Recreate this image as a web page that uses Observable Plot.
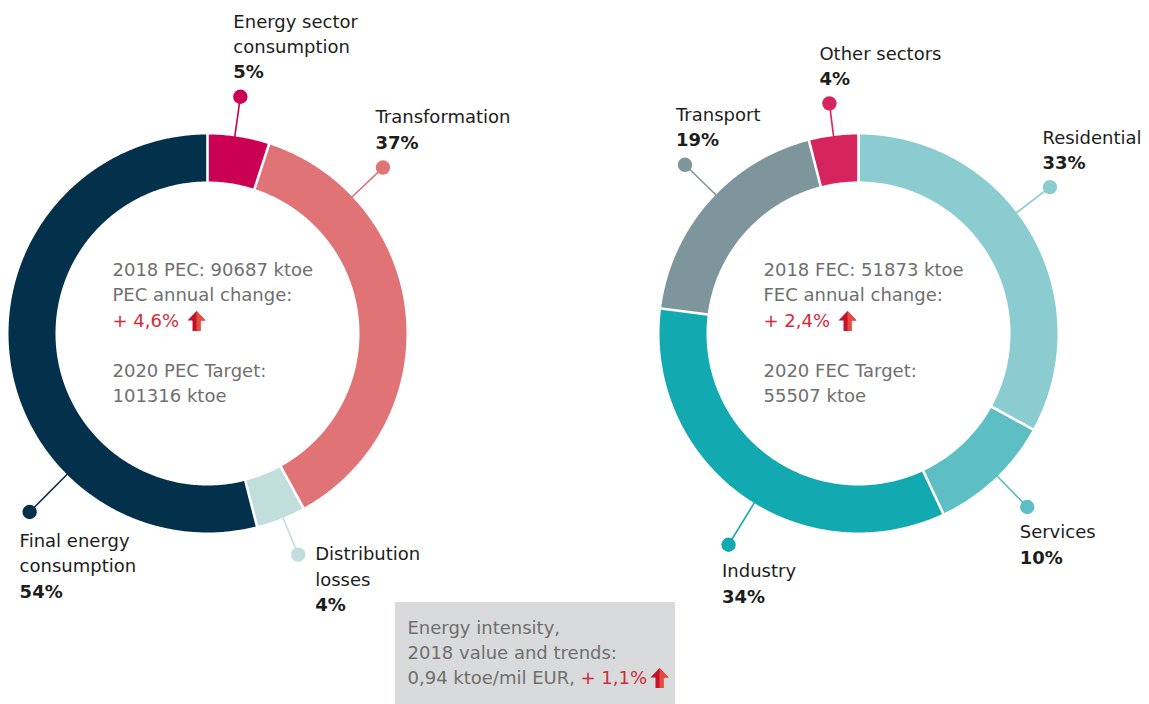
<!DOCTYPE html>
<html><head><meta charset="utf-8">
<script src="https://cdn.jsdelivr.net/npm/d3@7"></script>
<script src="https://cdn.jsdelivr.net/npm/@observablehq/plot@0.6"></script>
<style>html,body{margin:0;padding:0;background:#fff;} #chart svg{display:block}</style>
</head><body><div id="chart"></div>
<script>
// ---- data ----
const pecCategories = ["Energy sector\nconsumption", "Transformation", "Distribution\nlosses", "Final energy\nconsumption"];
const pecShares = [5, 37, 4, 54];
const pecColors = ["#CC0052", "#E07376", "#C1DEDD", "#03304A"];
const fecCategories = ["Residential", "Services", "Industry", "Transport", "Other sectors"];
const fecShares = [33, 10, 34, 19, 4];
const fecColors = ["#8BCCD1", "#5DBEC3", "#13A9B0", "#7F959C", "#D6245E"];
const pecSummary = ["2018 PEC: 90687 ktoe", "PEC annual change:", "+ 4,6%", "", "2020 PEC Target:", "101316 ktoe"];
const fecSummary = ["2018 FEC: 51873 ktoe", "FEC annual change:", "+ 2,4%", "", "2020 FEC Target:", "55507 ktoe"];
const intensityLines = ["Energy intensity,", "2018 value and trends:", "0,94 ktoe/mil EUR,"];
const intensityChange = "+ 1,1%";

// ---- layout ----
const W = 1149, H = 704;
const FONT = "'DejaVu Sans', 'Open Sans', sans-serif";
const TEXT = "#1d1d1b", GRAY = "#6f6f6f", RED = "#D12B3A";
const donuts = [
  {cx: 207, cy: 333, rOut: 199, rIn: 152, cats: pecCategories, shares: pecShares, colors: pecColors, summary: pecSummary,
   leaders: [{a: 7.9, r: 239, dx: -7, dy: -75}, {a: 46.6, r: 241.5, dx: -7.5, dy: -50},
             {a: 157.7, r: 239, dx: 17, dy: 0}, {a: 224.9, r: 252, dx: -10, dy: 29}]},
  {cx: 858, cy: 333, rOut: 199, rIn: 152, cats: fecCategories, shares: fecShares, colors: fecColors, summary: fecSummary,
   leaders: [{a: 52.6, r: 241, dx: -7.5, dy: -49}, {a: 135.8, r: 242, dx: -7.5, dy: 25.5},
             {a: 211.6, r: 248, dx: -6.5, dy: 27}, {a: 314.2, r: 242, dx: -9, dy: -49.5},
             {a: 352.8, r: 232, dx: -10, dy: -49.5}]}
];
const LH = 25.4;
const box = {x1: 395, x2: 675, y1: 602, y2: 704, tx: 407, ty: 628};

const pt = (d, a, r) => ({x: d.cx + r * Math.sin(a * Math.PI / 180), y: d.cy - r * Math.cos(a * Math.PI / 180)});

const marks = [];
const bounds = [], leaders = [], regular = [], bold = [], red = [], arrows = [];

marks.push(Plot.rect([box], {x1: "x1", x2: "x2", y1: "y1", y2: "y2", fill: "#D9DADB"}));

for (const d of donuts) {
  const total = d3.sum(d.shares);
  let acc = 0;
  d.shares.forEach((v, i) => {
    const a0 = acc / total * 360, a1 = (acc + v) / total * 360;
    acc += v;
    const n = Math.max(2, Math.ceil((a1 - a0) / 0.5));
    const pts = [];
    for (let k = 0; k <= n; k++) pts.push(pt(d, a0 + (a1 - a0) * k / n, d.rOut));
    for (let k = n; k >= 0; k--) pts.push(pt(d, a0 + (a1 - a0) * k / n, d.rIn));
    marks.push(Plot.line(pts, {x: "x", y: "y", fill: d.colors[i], stroke: "none", curve: "linear"}));
    bounds.push({p: pt(d, a0, d.rIn - 2), q: pt(d, a0, d.rOut + 2)});
    // leader
    const L = d.leaders[i];
    const p = pt(d, L.a, d.rOut - 1), q = pt(d, L.a, L.r);
    leaders.push({p, q, color: d.colors[i]});
    const lines = d.cats[i].split("\n");
    const x = q.x + L.dx;
    const y0 = q.y + L.dy;
    lines.forEach((t, k) => regular.push({x, y: y0 + k * LH, text: t}));
    bold.push({x, y: y0 + lines.length * LH, text: v + "%"});
  });
  // center summary
  const sx = d.cx - 95, sy = d.cy - 63;
  d.summary.forEach((t, k) => {
    if (!t) return;
    const row = {x: sx, y: sy + k * 25.2, text: t};
    if (t.startsWith("+")) { red.push(row); arrows.push({x: sx + 84, y: row.y}); }
    else regular.push({...row, gray: true});
  });
}
// intensity box text
intensityLines.forEach((t, k) => regular.push({x: box.tx, y: box.ty + k * 25, text: t, gray: true}));
red.push({x: box.tx + 173, y: box.ty + 50, text: intensityChange});
arrows.push({x: box.tx + 252, y: box.ty + 49.5});

const arrowFull = {draw(ctx) {
  ctx.moveTo(0, -10); ctx.lineTo(9, -0.5); ctx.lineTo(4, -0.5); ctx.lineTo(4, 10);
  ctx.lineTo(-4, 10); ctx.lineTo(-4, -0.5); ctx.lineTo(-9, -0.5); ctx.closePath();
}};
const arrowRight = {draw(ctx) {
  ctx.moveTo(0, -10); ctx.lineTo(9, -0.5); ctx.lineTo(4, -0.5); ctx.lineTo(4, 10);
  ctx.lineTo(0, 10); ctx.closePath();
}};

marks.push(
  Plot.link(bounds, {x1: d => d.p.x, y1: d => d.p.y, x2: d => d.q.x, y2: d => d.q.y, stroke: "white", strokeWidth: 2.6}),
  Plot.link(leaders, {x1: d => d.p.x, y1: d => d.p.y, x2: d => d.q.x, y2: d => d.q.y, stroke: "color", strokeWidth: 1.6}),
  Plot.dot(leaders, {x: d => d.q.x, y: d => d.q.y, r: 7.2, fill: "color", stroke: "none"}),
  Plot.text(regular.filter(d => !d.gray), {x: "x", y: "y", text: "text", textAnchor: "start", lineAnchor: "middle", fontSize: 18, fill: TEXT}),
  Plot.text(regular.filter(d => d.gray), {x: "x", y: "y", text: "text", textAnchor: "start", lineAnchor: "middle", fontSize: 18, fill: GRAY}),
  Plot.text(bold, {x: "x", y: "y", text: "text", textAnchor: "start", lineAnchor: "middle", fontSize: 18, fontWeight: "bold", fill: TEXT}),
  Plot.text(red, {x: "x", y: "y", text: "text", textAnchor: "start", lineAnchor: "middle", fontSize: 18, fill: RED}),
  Plot.dot(arrows, {x: "x", y: "y", symbol: arrowFull, r: 10, fill: "#C4122C", stroke: "none"}),
  Plot.dot(arrows, {x: "x", y: "y", symbol: arrowRight, r: 10, fill: "#E84B3E", stroke: "none"})
);

const chart = Plot.plot({
  width: W, height: H, margin: 0,
  x: {domain: [0, W], range: [0, W], axis: null},
  y: {domain: [0, H], range: [0, H], axis: null},
  color: {type: "identity"},
  style: {fontFamily: FONT, background: "#fff"},
  marks
});
document.getElementById("chart").append(chart);
</script>
</body></html>
